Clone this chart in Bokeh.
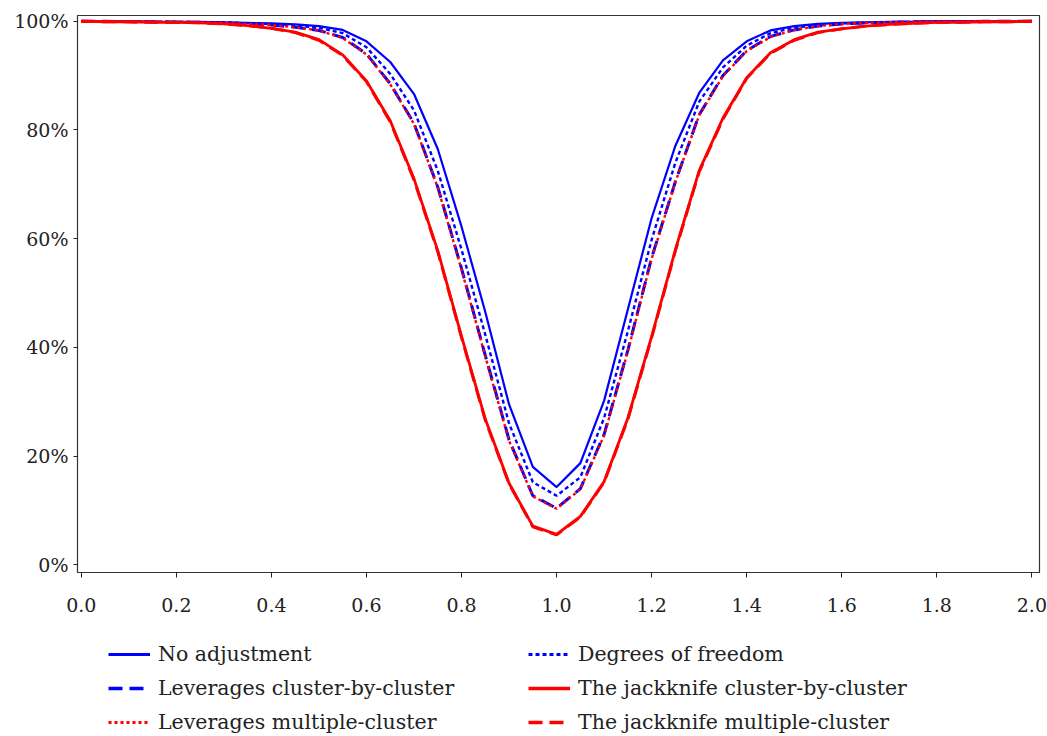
from bokeh.plotting import figure
from bokeh.models import Legend, LegendItem, PrintfTickFormatter, FixedTicker, Range1d
from bokeh.layouts import column
from bokeh.embed import file_html
from bokeh.resources import INLINE

x = [0.0, 0.05, 0.1, 0.15, 0.2, 0.25, 0.3, 0.35, 0.4, 0.45,
     0.5, 0.55, 0.6, 0.65, 0.7, 0.75, 0.8, 0.85, 0.9, 0.95,
     1.0, 1.05, 1.1, 1.15, 1.2, 1.25, 1.3, 1.35, 1.4, 1.45,
     1.5, 1.55, 1.6, 1.65, 1.7, 1.75, 1.8, 1.85, 1.9, 1.95, 2.0]

no_adjustment = [100.0, 100.0, 100.0, 99.9, 99.9, 99.9, 99.8, 99.7, 99.6, 99.4,
                 99.1, 98.4, 96.3, 92.5, 86.6, 76.5, 62.2, 46.5, 29.5, 18.0,
                 14.3, 18.7, 30.2, 47.0, 63.8, 77.1, 86.8, 92.8, 96.3, 98.3,
                 99.1, 99.5, 99.7, 99.8, 99.9, 99.9, 100.0, 100.0, 100.0, 100.0, 100.0]

degrees_of_freedom = [100.0, 100.0, 100.0, 99.9, 99.9, 99.8, 99.8, 99.6, 99.5, 99.2,
                      98.8, 97.8, 95.2, 90.3, 83.6, 72.5, 58.0, 42.3, 26.0, 15.2,
                      12.7, 16.1, 27.0, 43.0, 59.8, 74.0, 85.2, 91.5, 95.5, 97.8,
                      98.8, 99.3, 99.6, 99.7, 99.8, 99.9, 99.9, 100.0, 100.0, 100.0, 100.0]

leverages_cbc = [100.0, 100.0, 99.9, 99.9, 99.8, 99.8, 99.7, 99.5, 99.3, 98.9,
                 98.3, 97.0, 94.0, 88.5, 81.2, 69.5, 54.5, 38.5, 23.0, 12.7,
                 10.4, 14.0, 24.0, 39.5, 56.5, 70.5, 82.8, 90.0, 94.6, 97.2,
                 98.4, 99.1, 99.5, 99.7, 99.8, 99.9, 99.9, 99.9, 100.0, 100.0, 100.0]

leverages_mc = [100.0, 100.0, 99.9, 99.9, 99.8, 99.8, 99.7, 99.5, 99.3, 98.9,
                98.3, 96.9, 93.9, 88.4, 81.1, 69.4, 54.3, 38.3, 22.8, 12.6,
                10.3, 13.9, 23.8, 39.3, 56.3, 70.4, 82.7, 89.9, 94.5, 97.1,
                98.4, 99.1, 99.5, 99.7, 99.8, 99.9, 99.9, 99.9, 100.0, 100.0, 100.0]

jackknife_cbc = [100.0, 99.9, 99.9, 99.8, 99.8, 99.7, 99.5, 99.2, 98.7, 98.0,
                 96.6, 93.8, 89.0, 81.7, 71.0, 57.8, 42.0, 26.8, 15.0, 7.1,
                 5.6, 8.9, 15.3, 27.0, 42.0, 58.0, 72.5, 82.2, 89.6, 94.2,
                 96.6, 98.0, 98.6, 99.1, 99.4, 99.6, 99.8, 99.8, 99.9, 99.9, 100.0]

jackknife_mc = [100.0, 99.9, 99.9, 99.8, 99.8, 99.7, 99.5, 99.2, 98.7, 97.9,
                96.5, 93.7, 88.9, 81.5, 70.8, 57.6, 41.8, 26.6, 14.9, 7.0,
                5.5, 8.8, 15.2, 26.8, 41.8, 57.8, 72.3, 82.0, 89.5, 94.1,
                96.5, 97.9, 98.6, 99.1, 99.4, 99.6, 99.8, 99.8, 99.9, 99.9, 100.0]

labels = ["No adjustment", "Leverages cluster-by-cluster", "Leverages multiple-cluster",
          "Degrees of freedom", "The jackknife cluster-by-cluster", "The jackknife multiple-cluster"]

x_ticks = [0.0, 0.2, 0.4, 0.6, 0.8, 1.0, 1.2, 1.4, 1.6, 1.8, 2.0]
y_ticks = [0, 20, 40, 60, 80, 100]

FONT = "DejaVu Serif"
BLUE = "#0000FF"
RED = "#FF0000"

# series styles: (color, width, dash)
styles = {
    "no": (BLUE, 2.2, "solid"),
    "dof": (BLUE, 2.4, "4 3"),
    "lcbc": (BLUE, 3, "14 7"),
    "lmc": (RED, 2.4, "3 3"),
    "jcbc": (RED, 2.8, "solid"),
    "jmc": (RED, 3, "14 7"),
}

p = figure(width=1047, height=622, output_backend="svg", toolbar_location=None,
           x_range=Range1d(-0.008, 2.016), y_range=Range1d(-1.42, 101.05),
           min_border_left=77, min_border_right=8, min_border_top=15, min_border_bottom=50)
p.xgrid.visible = False
p.ygrid.visible = False
p.outline_line_color = "#333333"
p.outline_line_width = 1.2
p.background_fill_color = "white"
p.border_fill_color = "white"

for ax in (p.xaxis[0], p.yaxis[0]):
    ax.axis_line_color = None
    ax.major_tick_in = 0
    ax.minor_tick_line_color = None
    ax.major_tick_line_color = "#222222"
    ax.major_label_text_font = FONT
    ax.major_label_text_font_size = "19px"
    ax.major_label_text_color = "#222222"

p.xaxis[0].ticker = FixedTicker(ticks=x_ticks)
p.xaxis[0].formatter = PrintfTickFormatter(format="%.1f")
p.xaxis[0].major_tick_out = 5
p.xaxis[0].major_label_standoff = 20
p.yaxis[0].ticker = FixedTicker(ticks=y_ticks)
p.yaxis[0].formatter = PrintfTickFormatter(format="%d%%")
p.yaxis[0].major_tick_out = 4
p.yaxis[0].major_label_standoff = 5

series = [("no", no_adjustment), ("dof", degrees_of_freedom), ("lcbc", leverages_cbc),
          ("lmc", leverages_mc), ("jcbc", jackknife_cbc), ("jmc", jackknife_mc)]
for key, ys in series:
    c, w, d = styles[key]
    p.line(x, ys, line_color=c, line_width=w, line_dash=d)

# legend panel below the chart (its frame is aligned with the chart's frame)
q = figure(width=1047, height=114, output_backend="svg", toolbar_location=None,
           x_range=Range1d(0, 1), y_range=Range1d(0, 1),
           x_axis_type=None, y_axis_type=None,
           min_border_left=77, min_border_right=8, min_border_top=0, min_border_bottom=0)
q.xgrid.visible = False
q.ygrid.visible = False
q.outline_line_color = None
q.background_fill_color = "white"
q.border_fill_color = "white"

legend_keys = ["no", "lcbc", "lmc", "dof", "jcbc", "jmc"]
items = []
for key, lab in zip(legend_keys, labels):
    c, w, d = styles[key]
    # legend-only renderer, placed outside the visible range
    r = q.line([-5, -4], [-5, -4], line_color=c, line_width=w + 0.6, line_dash=d)
    items.append(LegendItem(label=lab, renderers=[r]))

legend = Legend(items=items, location=(31, 2), orientation="vertical", nrows=3,
                padding=0, margin=0, spacing=10,
                glyph_width=42, glyph_height=20, label_height=20, label_width=360,
                label_standoff=8, label_text_font=FONT, label_text_font_size="20.5px",
                label_text_color="#222222", border_line_alpha=0, background_fill_alpha=0)
q.add_layout(legend, "center")

layout = column(p, q, spacing=0)
open("out.html", "w").write(file_html(layout, INLINE))
